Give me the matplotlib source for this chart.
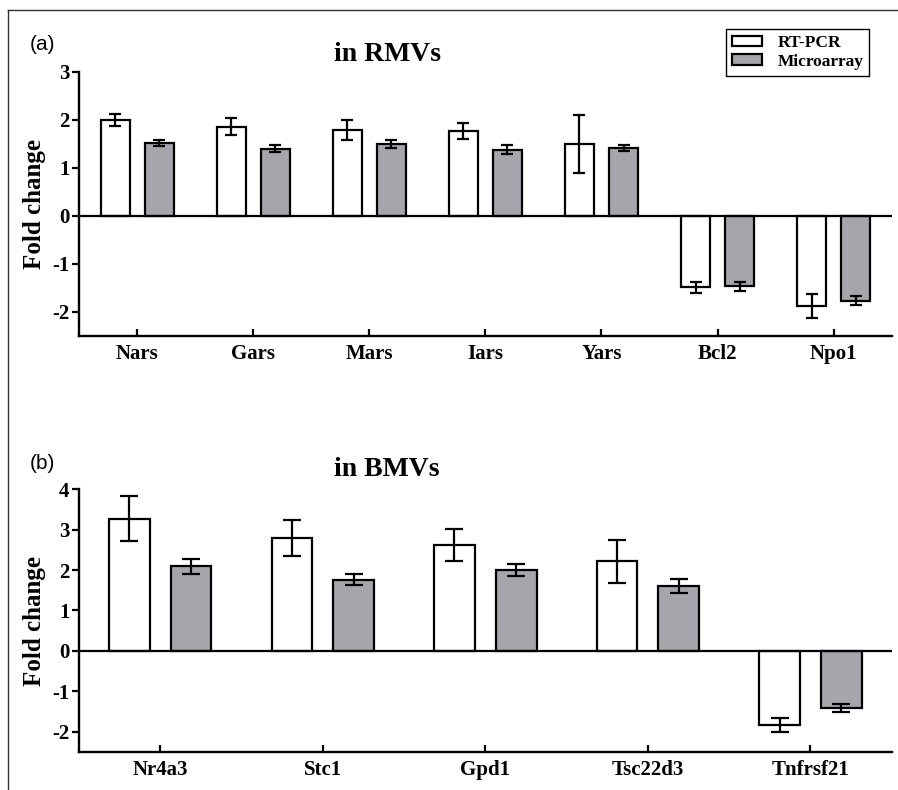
import matplotlib
matplotlib.use("Agg")
import matplotlib.pyplot as plt
from matplotlib.lines import Line2D
from matplotlib.patches import Patch
import numpy as np

# panel (a): in RMVs
genes_a = ["Nars", "Gars", "Mars", "Iars", "Yars", "Bcl2", "Npo1"]
pcr_a = [2.00, 1.86, 1.79, 1.77, 1.50, -1.49, -1.88]
pcr_a_err = [0.13, 0.18, 0.20, 0.16, 0.60, 0.12, 0.25]
arr_a = [1.52, 1.40, 1.50, 1.38, 1.42, -1.47, -1.77]
arr_a_err = [0.07, 0.08, 0.08, 0.09, 0.065, 0.10, 0.09]

# panel (b): in BMVs
genes_b = ["Nr4a3", "Stc1", "Gpd1", "Tsc22d3", "Tnfrsf21"]
pcr_b = [3.27, 2.80, 2.62, 2.22, -1.84]
pcr_b_err = [0.56, 0.44, 0.40, 0.53, 0.18]
arr_b = [2.09, 1.76, 2.00, 1.61, -1.42]
arr_b_err = [0.19, 0.14, 0.15, 0.18, 0.09]

grey = "#a6a5ab"
serif = "Liberation Serif"

fig = plt.figure(figsize=(8.98, 7.90), dpi=100)
ax1 = fig.add_axes([0.088, 0.575, 0.905, 0.334])
ax2 = fig.add_axes([0.088, 0.0485, 0.905, 0.332])


def draw(ax, genes, pcr, pcr_err, arr, arr_err, ylim, yticks, cap):
	x = np.arange(len(genes))
	w = 0.25
	ekw = dict(elinewidth=1.6, capthick=1.6, ecolor="black")
	ax.bar(x - 0.19, pcr, w, color="white", edgecolor="black", linewidth=1.6,
		yerr=pcr_err, capsize=cap, error_kw=ekw, zorder=2)
	ax.bar(x + 0.19, arr, w, color=grey, edgecolor="black", linewidth=1.6,
		yerr=arr_err, capsize=cap, error_kw=ekw, zorder=2)
	ax.axhline(0, color="black", lw=1.6, zorder=3)
	ax.set_xlim(-0.5, len(genes) - 0.5)
	ax.set_ylim(*ylim)
	ax.set_yticks(yticks)
	ax.set_yticklabels([str(t) for t in yticks], fontfamily=serif,
		fontweight="bold", fontsize=15)
	ax.set_xticks(x)
	ax.set_xticklabels(genes, fontfamily=serif, fontweight="bold", fontsize=15)
	ax.spines["top"].set_visible(False)
	ax.spines["right"].set_visible(False)
	ax.spines["left"].set_linewidth(1.7)
	ax.spines["bottom"].set_linewidth(1.7)
	ax.tick_params(axis="y", direction="out", length=5, width=1.6, pad=2)
	ax.tick_params(axis="x", direction="in", length=5, width=1.6, pad=6)
	ax.set_ylabel("Fold change", fontfamily=serif, fontweight="bold",
		fontsize=18, labelpad=4)


draw(ax1, genes_a, pcr_a, pcr_a_err, arr_a, arr_a_err, (-2.5, 3),
	[-2, -1, 0, 1, 2, 3], 4.5)
draw(ax2, genes_b, pcr_b, pcr_b_err, arr_b, arr_b_err, (-2.5, 4),
	[-2, -1, 0, 1, 2, 3, 4], 6.5)

fig.text(0.431, 0.923, "in RMVs", ha="center", va="baseline",
	fontfamily=serif, fontweight="bold", fontsize=20)
fig.text(0.431, 0.3975, "in BMVs", ha="center", va="baseline",
	fontfamily=serif, fontweight="bold", fontsize=20)
fig.text(0.033, 0.9367, "(a)", va="baseline", fontfamily="Liberation Sans", fontsize=15)
fig.text(0.033, 0.406, "(b)", va="baseline", fontfamily="Liberation Sans", fontsize=15)

handles = [Patch(facecolor="white", edgecolor="black", linewidth=1.6),
	Patch(facecolor=grey, edgecolor="black", linewidth=1.6)]
leg = fig.legend(handles, ["RT-PCR", "Microarray"], loc="upper left",
	bbox_to_anchor=(0.8085, 0.9633), bbox_transform=fig.transFigure,
	prop=dict(family=serif, weight="bold", size=12.5), fancybox=False,
	edgecolor="black", framealpha=1, handlelength=1.7, handleheight=0.55,
	handletextpad=0.9, labelspacing=0.15, borderpad=0.35, borderaxespad=0)
leg.get_frame().set_linewidth(1.0)

# outer frame (left and top edges)
fig.add_artist(Line2D([0.0093, 0.0093], [0.0, 0.987], color="#333333", lw=1.0,
	transform=fig.transFigure))
fig.add_artist(Line2D([0.0093, 1.0], [0.987, 0.987], color="#333333", lw=1.0,
	transform=fig.transFigure))

fig.savefig("out.png", dpi=100)
